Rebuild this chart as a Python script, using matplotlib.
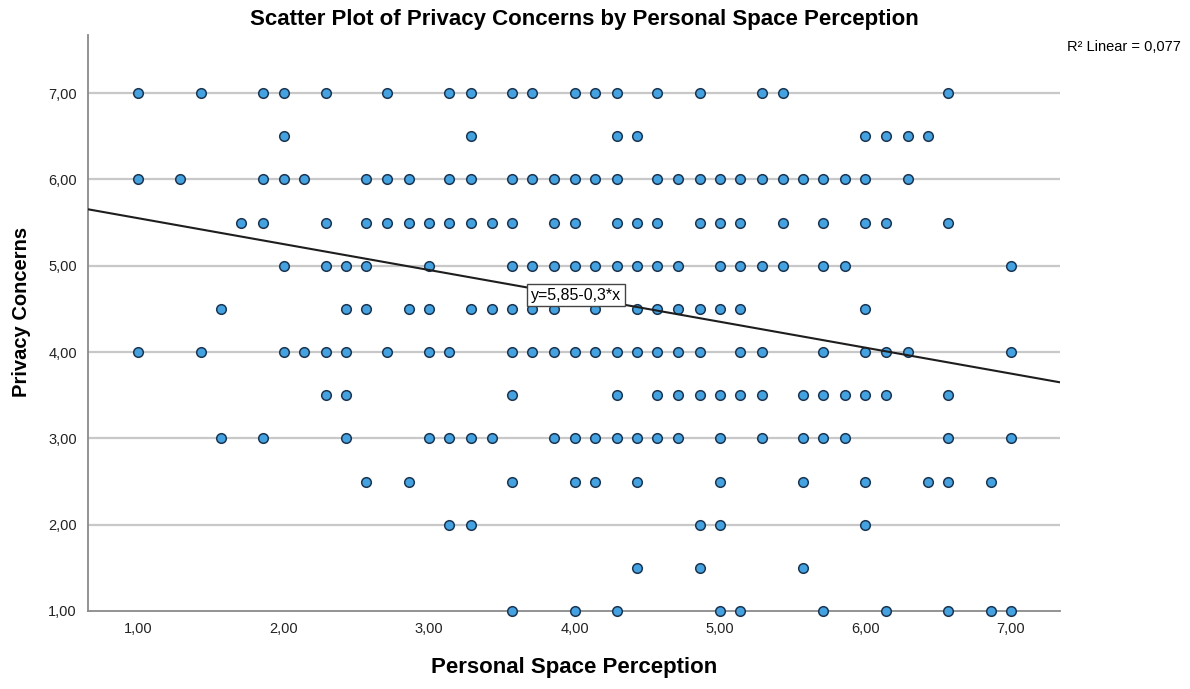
import matplotlib.pyplot as plt

plt.rcParams['font.family'] = ['Liberation Sans', 'DejaVu Sans']

# Personal Space Perception values, one list per Privacy Concerns level
row_7_0 = [1.00, 1.43, 1.86, 2.00, 2.29, 2.71, 3.14, 3.29, 3.57, 3.71, 4.00, 4.14, 4.29, 4.57, 4.86, 5.29, 5.43, 6.57]
row_6_5 = [2.00, 3.29, 4.29, 4.43, 6.00, 6.14, 6.29, 6.43]
row_6_0 = [1.00, 1.29, 1.86, 2.00, 2.14, 2.57, 2.71, 2.86, 3.14, 3.29, 3.57, 3.71, 3.86, 4.00, 4.14, 4.29,
           4.57, 4.71, 4.86, 5.00, 5.14, 5.29, 5.43, 5.57, 5.71, 5.86, 6.00, 6.29]
row_5_5 = [1.71, 1.86, 2.29, 2.57, 2.71, 2.86, 3.00, 3.14, 3.29, 3.43, 3.57, 3.86, 4.00, 4.29, 4.43, 4.57,
           4.86, 5.00, 5.14, 5.43, 5.71, 6.00, 6.14, 6.57]
row_5_0 = [2.00, 2.29, 2.43, 2.57, 3.00, 3.57, 3.71, 3.86, 4.00, 4.14, 4.29, 4.43, 4.57, 4.71, 5.00, 5.14,
           5.29, 5.43, 5.71, 5.86, 7.00]
row_4_5 = [1.57, 2.43, 2.57, 2.86, 3.00, 3.29, 3.43, 3.57, 3.71, 3.86, 4.14, 4.43, 4.57, 4.71, 4.86, 5.00,
           5.14, 6.00]
row_4_0 = [1.00, 1.43, 2.00, 2.14, 2.29, 2.43, 2.71, 3.00, 3.14, 3.57, 3.71, 3.86, 4.00, 4.14, 4.29, 4.43,
           4.57, 4.71, 4.86, 5.14, 5.29, 5.71, 6.00, 6.14, 6.29, 7.00]
row_3_5 = [2.29, 2.43, 3.57, 4.29, 4.57, 4.71, 4.86, 5.00, 5.14, 5.29, 5.57, 5.71, 5.86, 6.00, 6.14, 6.57]
row_3_0 = [1.57, 1.86, 2.43, 3.00, 3.14, 3.29, 3.43, 3.86, 4.00, 4.14, 4.29, 4.43, 4.57, 4.71, 5.00, 5.29,
           5.57, 5.71, 5.86, 6.57, 7.00]
row_2_5 = [2.57, 2.86, 3.57, 4.00, 4.14, 4.43, 5.00, 5.57, 6.00, 6.43, 6.57, 6.86]
row_2_0 = [3.14, 3.29, 4.86, 5.00, 6.00]
row_1_5 = [4.43, 4.86, 5.57]
row_1_0 = [3.57, 4.00, 4.29, 5.00, 5.14, 5.71, 6.14, 6.57, 6.86, 7.00]

privacy_levels = [7.0, 6.5, 6.0, 5.5, 5.0, 4.5, 4.0, 3.5, 3.0, 2.5, 2.0, 1.5, 1.0]
rows = [row_7_0, row_6_5, row_6_0, row_5_5, row_5_0, row_4_5, row_4_0,
        row_3_5, row_3_0, row_2_5, row_2_0, row_1_5, row_1_0]

intercept = 5.85
slope = -0.3
r_squared = "0,077"

tick_values = [1, 2, 3, 4, 5, 6, 7]
tick_labels = ["1,00", "2,00", "3,00", "4,00", "5,00", "6,00", "7,00"]

x = []
y = []
for level, row in zip(privacy_levels, rows):
    x.extend(row)
    y.extend([level] * len(row))

W, H = 1190, 689
fig = plt.figure(figsize=(W / 100, H / 100), dpi=100)
ax = fig.add_axes([88 / W, 1 - 611 / H, (1060 - 88) / W, (611 - 35) / H])

xmin, xmax = 0.656, 7.337
ax.set_xlim(xmin, xmax)
ax.set_ylim(1.0, 7.672)

for t in tick_values[1:]:
    ax.axhline(t, color="#c8c8c8", lw=1.6, zorder=1)

ax.scatter(x, y, s=48, facecolor="#45a2e0", edgecolor="#1b3550", linewidth=1.1, zorder=3, clip_on=False)

ax.plot([xmin, xmax], [intercept + slope * xmin, intercept + slope * xmax], color="#1e1e1e", lw=1.5, zorder=4)
ax.text(4.01, 4.66, "y=5,85-0,3*x", fontsize=11.5, ha="center", va="center", zorder=6,
        bbox=dict(boxstyle="square,pad=0.22", facecolor="white", edgecolor="#444444", lw=1))

ax.set_xticks(tick_values)
ax.set_xticklabels(tick_labels)
ax.set_yticks(tick_values)
ax.set_yticklabels(tick_labels)
ax.tick_params(length=0, labelsize=10.5, colors="#222222", pad=8)

for side in ["top", "right"]:
    ax.spines[side].set_visible(False)
for side in ["left", "bottom"]:
    ax.spines[side].set_color("#8a8a8a")
    ax.spines[side].set_linewidth(1.3)

fig.text(584 / W, 1 - 19 / H, "Scatter Plot of Privacy Concerns by Personal Space Perception",
         ha="center", va="center", fontsize=16, fontweight="bold")
fig.text(574 / W, 1 - 668 / H, "Personal Space Perception", ha="center", va="center",
         fontsize=16, fontweight="bold")
fig.text(22 / W, 1 - 312 / H, "Privacy Concerns", ha="center", va="center", rotation=90,
         fontsize=14.5, fontweight="bold")
fig.text(1181 / W, 1 - 47 / H, "R\u00b2 Linear = " + r_squared, ha="right", va="center", fontsize=10.5)

fig.savefig("out.png", dpi=100)
